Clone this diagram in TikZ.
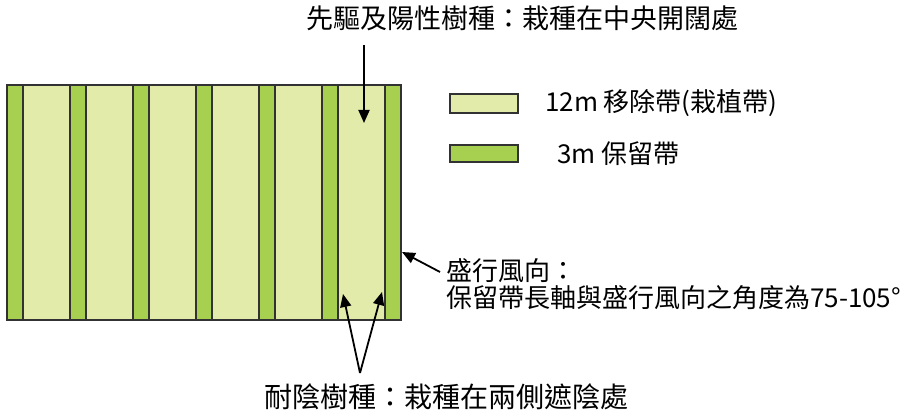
\documentclass[tikz,border=0pt]{standalone}
\usepackage{fontspec}
\setmainfont{Noto Sans CJK TC}
\usetikzlibrary{arrows.meta}
\definecolor{lightg}{RGB}{226,235,170}
\definecolor{darkg}{RGB}{168,208,80}
\definecolor{edge}{RGB}{50,50,50}
\tikzset{
  arr/.style={line width=1.8pt,-{Triangle[length=13pt,width=11pt]}},
  lbl/.style={inner sep=0pt,font=\fontsize{26}{26}\selectfont},
  stripdark/.style={fill=darkg,draw=edge,line width=1.8pt},
  legbox/.style={draw=edge,line width=1.8pt}
}
\begin{document}
\begin{tikzpicture}[x=1pt,y=-1pt]
\useasboundingbox (0,0) rectangle (924,414);
% field
\fill[lightg] (7,85) rectangle (401,320);
\foreach \i in {0,...,6}{
  \draw[stripdark] ({7+63*\i},85) rectangle ({23+63*\i},320);
}
\draw[edge,line width=1.8pt] (7,85) rectangle (401,320);
% legend
\draw[legbox,fill=lightg] (450,94) rectangle (518,113);
\draw[legbox,fill=darkg] (450,145) rectangle (518,162);
\node[lbl,anchor=west] (leg1) at (545,103) {12m 移除帶(栽植帶)};
\node[lbl,anchor=west] (leg2) at (557,154) {3m 保留帶};
% labels
\node[lbl,font=\fontsize{27}{27}\selectfont] (top) at (522,18) {先驅及陽性樹種：栽種在中央開闊處};
\node[lbl,font=\fontsize{28}{28}\selectfont] (bot) at (446,397) {耐陰樹種：栽種在兩側遮陰處};
\node[lbl,anchor=north west,align=left,font=\fontsize{26}{27}\selectfont] (wind) at (446,258) {盛行風向：\\保留帶長軸與盛行風向之角度為75-105°};
% arrows
\coordinate (t1s) at (364,45);
\coordinate (t1) at (364,123);
\coordinate (w0) at (440,272);
\coordinate (w1) at (402,252);
\coordinate (b0) at (360,373);
\coordinate (b1) at (343,294);
\coordinate (b2) at (382,292);
\draw[arr] (t1s) -- (t1);
\draw[arr] (w0) -- (w1);
\draw[arr] (b0) -- (b1);
\draw[arr] (b0) -- (b2);
\end{tikzpicture}
\end{document}
